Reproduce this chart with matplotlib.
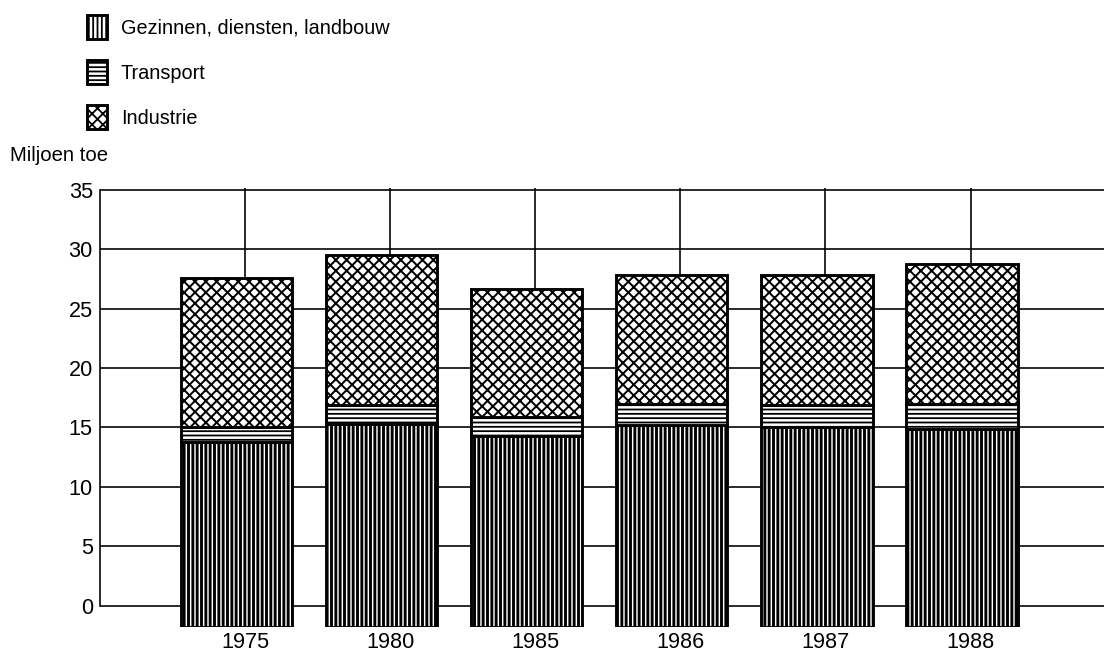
import numpy as np
import matplotlib
matplotlib.use("Agg")
import matplotlib.pyplot as plt

# values (Miljoen toe)
years = ["1975", "1980", "1985", "1986", "1987", "1988"]
gezinnen = [13.8, 15.3, 14.3, 15.2, 15.0, 14.9]
transport = [1.2, 1.6, 1.6, 1.8, 1.9, 2.1]
industrie = [12.6, 12.6, 10.8, 10.8, 10.9, 11.8]
labels = ["Gezinnen, diensten, landbouw", "Transport", "Industrie"]
yticks = [0, 5, 10, 15, 20, 25, 30, 35]

plt.rcParams["font.family"] = ["Liberation Sans", "DejaVu Sans"]
plt.rcParams["hatch.color"] = "black"

DPI = 130
W, H = 1104, 655
BASE = -1.8   # bars in the scan start a bit under the 0 line
TOP = 35.2

fig = plt.figure(figsize=(W / DPI, H / DPI), dpi=DPI)
ax = fig.add_axes([100 / W, 1 - 627 / H, 1004 / W, (627 - 187.6) / H])

x = np.arange(len(years))
xb = x - 0.06
wid = 0.77
gez = np.array(gezinnen)
tra = np.array(transport)
ind = np.array(industrie)

with plt.rc_context({"hatch.linewidth": 1.6}):
    b1 = ax.bar(xb, gez - BASE, wid, bottom=BASE, facecolor="white",
                edgecolor="black", linewidth=1.6, hatch="|||||", zorder=3)
with plt.rc_context({"hatch.linewidth": 1.0}):
    b2 = ax.bar(xb, tra, wid, bottom=gez, facecolor="white",
                edgecolor="black", linewidth=1.6, hatch="-----", zorder=3)
with plt.rc_context({"hatch.linewidth": 1.1}):
    b3 = ax.bar(xb, ind, wid, bottom=gez + tra, facecolor="white",
                edgecolor="black", linewidth=1.6, hatch="xxxx", zorder=3)

ax.set_xlim(-1.0, 5.92)
ax.set_ylim(BASE, TOP)
ax.set_xticks(x)
ax.set_xticklabels(years, fontsize=12)
ax.set_yticks(yticks)
ax.set_yticklabels([str(v) for v in yticks], fontsize=12)
ax.tick_params(axis="both", length=0)
ax.tick_params(axis="y", pad=4)
ax.tick_params(axis="x", pad=3)

ax.set_axisbelow(True)
ax.grid(True, color="black", linewidth=0.9)
for s in ["top", "right", "bottom"]:
    ax.spines[s].set_visible(False)
ax.spines["left"].set_bounds(0, 35)
ax.spines["left"].set_linewidth(0.9)

fig.legend([b1, b2, b3], labels, loc="upper left",
           bbox_to_anchor=(87 / W, 1 - 15 / H), frameon=False,
           fontsize=11, handlelength=1.0, handleheight=1.5,
           handletextpad=0.7, labelspacing=1.05, borderpad=0,
           borderaxespad=0)

fig.text(10 / W, 1 - 155 / H, "Miljoen toe", fontsize=11.2, va="center", ha="left")

fig.savefig("out.png", dpi=DPI)
